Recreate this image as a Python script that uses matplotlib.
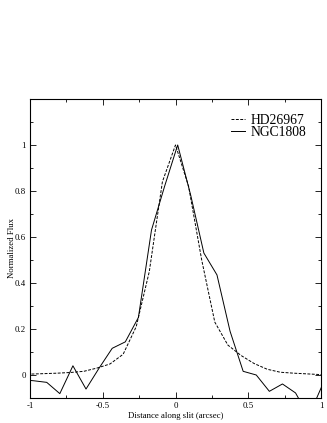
import numpy as np
import matplotlib
matplotlib.use('Agg')
from matplotlib import pyplot as plt
from matplotlib.ticker import MultipleLocator, FuncFormatter

plt.rcParams['font.family'] = ['Liberation Serif', 'DejaVu Serif']
plt.rcParams['axes.unicode_minus'] = False

# star profile (HD26967)
star_x = [-1.08, -0.99, -0.90, -0.81, -0.72, -0.63, -0.54, -0.45, -0.36, -0.27, -0.18, -0.09,
          0.0, 0.09, 0.18, 0.27, 0.36, 0.45, 0.54, 0.63, 0.72, 0.81, 0.90, 0.99, 1.08]
star_y = [0.003, 0.004, 0.006, 0.008, 0.011, 0.016, 0.030, 0.048, 0.09, 0.21, 0.45, 0.84,
          1.0, 0.82, 0.50, 0.23, 0.13, 0.085, 0.05, 0.025, 0.012, 0.008, 0.005, 0.002, 0.001]

# galaxy profile (NGC1808)
gal_x = [-1.065, -0.975, -0.885, -0.795, -0.705, -0.615, -0.525, -0.435, -0.345, -0.255, -0.165,
         -0.075, 0.015, 0.105, 0.195, 0.285, 0.375, 0.465, 0.555, 0.645, 0.735, 0.825, 0.915, 1.005]
gal_y = [-0.02, -0.025, -0.032, -0.081, 0.04, -0.061, 0.03, 0.116, 0.144, 0.25, 0.63,
         0.82, 1.0, 0.78, 0.53, 0.435, 0.19, 0.016, 0.0, -0.071, -0.039, -0.078, -0.18, -0.05]

fig = plt.figure(figsize=(3.27, 4.23), dpi=100)
ax = fig.add_axes([0.0917, 0.0591, 0.890, 0.707])

ax.plot(star_x, star_y, color='black', lw=0.7, ls=(0, (3, 1.5)), label='HD26967')
ax.plot(gal_x, gal_y, color='black', lw=0.7, label='NGC1808')

ax.set_xlim(-1, 1)
ax.set_ylim(-0.1, 1.2)
ax.xaxis.set_major_locator(MultipleLocator(0.5))
ax.xaxis.set_minor_locator(MultipleLocator(0.25))
ax.set_yticks([0, 0.2, 0.4, 0.6, 0.8, 1.0])
ax.yaxis.set_minor_locator(MultipleLocator(0.1))
fmt = FuncFormatter(lambda v, p: '%g' % round(v, 3))
ax.xaxis.set_major_formatter(fmt)
ax.yaxis.set_major_formatter(fmt)

ax.tick_params(which='both', direction='in', top=True, right=True, labelsize=6.3, width=0.6)
ax.tick_params(which='major', length=4.5, pad=3)
ax.tick_params(which='minor', length=2.5)
for s in ax.spines.values():
    s.set_linewidth(0.8)

ax.set_xlabel('Distance along slit (arcsec)', fontsize=6.3, labelpad=1)
ax.set_ylabel('Normalized Flux', fontsize=6.3, labelpad=-1)

ax.legend(loc='upper right', frameon=False, fontsize=9.8, handlelength=1.05,
          handletextpad=0.37, labelspacing=-0.08, borderaxespad=0.7)

fig.savefig('out.png', dpi=100)
